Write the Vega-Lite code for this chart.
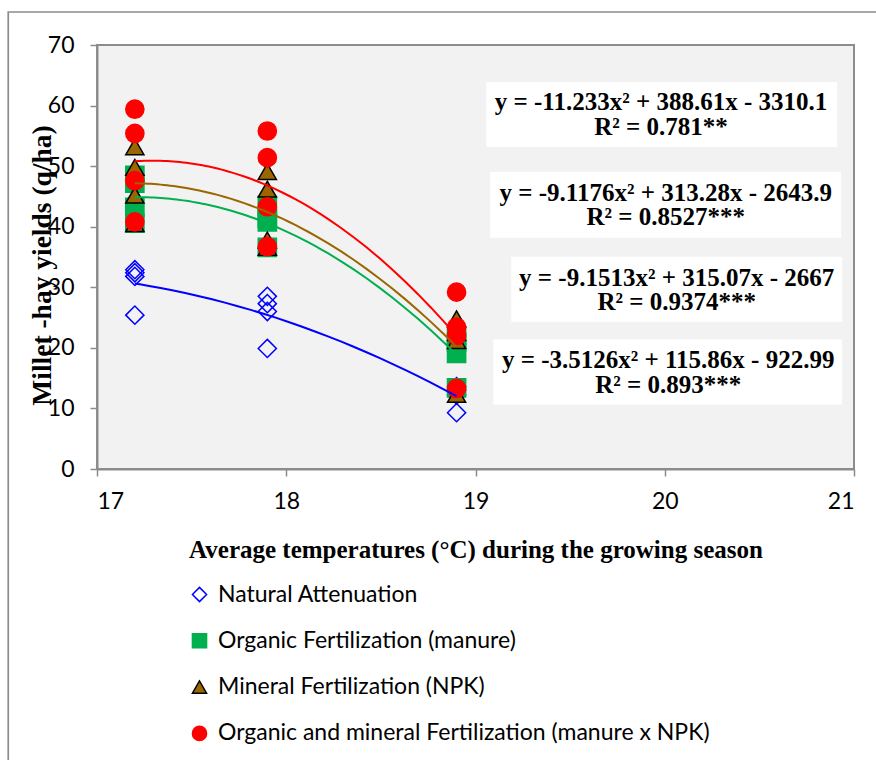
{
  "$schema": "https://vega.github.io/schema/vega-lite/v6.json",
  "width": 757,
  "height": 424,
  "autosize": {"type": "none"},
  "padding": {"left": 97, "top": 45, "right": 22, "bottom": 291},
  "background": "white",
  "config": {
    "view": {"fill": "#f2f2f2", "stroke": "#8c8c8c", "strokeWidth": 2},
    "axis": {
      "gridColor": "#8c8c8c", "gridWidth": 1.5, "gridOpacity": 1,
      "domainColor": "#8c8c8c", "domainWidth": 2,
      "tickColor": "#8c8c8c", "tickWidth": 1.5, "tickSize": 7,
      "labelFont": "Lato", "labelFontSize": 23, "labelColor": "black",
      "titleFont": "Liberation Serif", "titleFontSize": 25, "titleFontWeight": "bold", "titleColor": "black"
    },
    "legend": {
      "labelFont": "Lato", "labelFontSize": 23, "labelColor": "black",
      "symbolSize": 200, "symbolStrokeWidth": 1.5, "rowPadding": 22.3, "labelOffset": 7, "padding": 0,
      "labelLimit": 800
    }
  },
  "datasets": {
    "yields": [
      {"temp": 17.2, "yield": 32.9, "series": "Natural Attenuation"},
      {"temp": 17.2, "yield": 32.4, "series": "Natural Attenuation"},
      {"temp": 17.2, "yield": 31.8, "series": "Natural Attenuation"},
      {"temp": 17.2, "yield": 25.4, "series": "Natural Attenuation"},
      {"temp": 17.9, "yield": 28.5, "series": "Natural Attenuation"},
      {"temp": 17.9, "yield": 27.3, "series": "Natural Attenuation"},
      {"temp": 17.9, "yield": 26.0, "series": "Natural Attenuation"},
      {"temp": 17.9, "yield": 19.9, "series": "Natural Attenuation"},
      {"temp": 18.9, "yield": 13.6, "series": "Natural Attenuation"},
      {"temp": 18.9, "yield": 13.0, "series": "Natural Attenuation"},
      {"temp": 18.9, "yield": 12.2, "series": "Natural Attenuation"},
      {"temp": 18.9, "yield": 9.3, "series": "Natural Attenuation"},
      {"temp": 17.2, "yield": 48.5, "series": "Organic Fertilization (manure)"},
      {"temp": 17.2, "yield": 47.2, "series": "Organic Fertilization (manure)"},
      {"temp": 17.2, "yield": 43.2, "series": "Organic Fertilization (manure)"},
      {"temp": 17.2, "yield": 40.6, "series": "Organic Fertilization (manure)"},
      {"temp": 17.9, "yield": 43.5, "series": "Organic Fertilization (manure)"},
      {"temp": 17.9, "yield": 41.4, "series": "Organic Fertilization (manure)"},
      {"temp": 17.9, "yield": 40.8, "series": "Organic Fertilization (manure)"},
      {"temp": 17.9, "yield": 36.6, "series": "Organic Fertilization (manure)"},
      {"temp": 18.9, "yield": 22.0, "series": "Organic Fertilization (manure)"},
      {"temp": 18.9, "yield": 21.0, "series": "Organic Fertilization (manure)"},
      {"temp": 18.9, "yield": 19.1, "series": "Organic Fertilization (manure)"},
      {"temp": 18.9, "yield": 13.4, "series": "Organic Fertilization (manure)"},
      {"temp": 17.2, "yield": 53.2, "series": "Mineral Fertilization (NPK)"},
      {"temp": 17.2, "yield": 49.8, "series": "Mineral Fertilization (NPK)"},
      {"temp": 17.2, "yield": 45.2, "series": "Mineral Fertilization (NPK)"},
      {"temp": 17.2, "yield": 40.5, "series": "Mineral Fertilization (NPK)"},
      {"temp": 17.9, "yield": 49.1, "series": "Mineral Fertilization (NPK)"},
      {"temp": 17.9, "yield": 46.2, "series": "Mineral Fertilization (NPK)"},
      {"temp": 17.9, "yield": 37.8, "series": "Mineral Fertilization (NPK)"},
      {"temp": 17.9, "yield": 36.6, "series": "Mineral Fertilization (NPK)"},
      {"temp": 18.9, "yield": 24.8, "series": "Mineral Fertilization (NPK)"},
      {"temp": 18.9, "yield": 22.5, "series": "Mineral Fertilization (NPK)"},
      {"temp": 18.9, "yield": 21.2, "series": "Mineral Fertilization (NPK)"},
      {"temp": 18.9, "yield": 12.3, "series": "Mineral Fertilization (NPK)"},
      {"temp": 17.2, "yield": 59.4, "series": "Organic and mineral Fertilization (manure x NPK)"},
      {"temp": 17.2, "yield": 55.4, "series": "Organic and mineral Fertilization (manure x NPK)"},
      {"temp": 17.2, "yield": 47.6, "series": "Organic and mineral Fertilization (manure x NPK)"},
      {"temp": 17.2, "yield": 40.8, "series": "Organic and mineral Fertilization (manure x NPK)"},
      {"temp": 17.9, "yield": 55.8, "series": "Organic and mineral Fertilization (manure x NPK)"},
      {"temp": 17.9, "yield": 51.4, "series": "Organic and mineral Fertilization (manure x NPK)"},
      {"temp": 17.9, "yield": 43.3, "series": "Organic and mineral Fertilization (manure x NPK)"},
      {"temp": 17.9, "yield": 36.7, "series": "Organic and mineral Fertilization (manure x NPK)"},
      {"temp": 18.9, "yield": 29.2, "series": "Organic and mineral Fertilization (manure x NPK)"},
      {"temp": 18.9, "yield": 23.4, "series": "Organic and mineral Fertilization (manure x NPK)"},
      {"temp": 18.9, "yield": 22.0, "series": "Organic and mineral Fertilization (manure x NPK)"},
      {"temp": 18.9, "yield": 13.3, "series": "Organic and mineral Fertilization (manure x NPK)"}
    ],
    "single": [{}]
  },
  "layer": [
    {
      "data": {"name": "single"},
      "mark": {"type": "rect", "filled": false, "stroke": "#8c8c8c", "strokeWidth": 1.7, "clip": false},
      "encoding": {
        "x": {"datum": 16.531, "type": "quantitative"},
        "x2": {"datum": 21.2},
        "y": {"datum": 75.45, "type": "quantitative"},
        "y2": {"datum": -50}
      }
    },
    {
      "data": {"name": "yields"},
      "mark": {"type": "point", "size": 330, "strokeWidth": 1.5, "opacity": 1},
      "encoding": {
        "x": {
          "field": "temp", "type": "quantitative",
          "scale": {"domain": [17, 21], "nice": false, "zero": false},
          "axis": {
            "title": "Average temperatures (°C) during the growing season",
            "values": [17, 18, 19, 20, 21], "format": "d",
            "labelPadding": 14, "titleY": 88, "titleBaseline": "alphabetic"
          }
        },
        "y": {
          "field": "yield", "type": "quantitative",
          "scale": {"domain": [0, 70], "nice": false},
          "axis": {
            "title": "Millet -hay yields (q/ha)",
            "values": [0, 10, 20, 30, 40, 50, 60, 70],
            "labelPadding": 16, "titleFontSize": 27.5,
            "titleX": -47, "titleY": 220, "titleAlign": "center", "titleBaseline": "alphabetic", "titleAngle": -90
          }
        },
        "shape": {
          "field": "series", "type": "nominal",
          "scale": {
            "domain": ["Natural Attenuation", "Organic Fertilization (manure)", "Mineral Fertilization (NPK)", "Organic and mineral Fertilization (manure x NPK)"],
            "range": ["diamond", "square", "triangle-up", "circle"]
          },
          "legend": {"title": null, "orient": "none", "legendX": 91, "legendY": 538, "direction": "vertical"}
        },
        "fill": {
          "field": "series", "type": "nominal",
          "scale": {
            "domain": ["Natural Attenuation", "Organic Fertilization (manure)", "Mineral Fertilization (NPK)", "Organic and mineral Fertilization (manure x NPK)"],
            "range": ["transparent", "#00b050", "#996600", "#ff0000"]
          },
          "legend": {"title": null, "orient": "none", "legendX": 91, "legendY": 538, "direction": "vertical"}
        },
        "stroke": {
          "field": "series", "type": "nominal",
          "scale": {
            "domain": ["Natural Attenuation", "Organic Fertilization (manure)", "Mineral Fertilization (NPK)", "Organic and mineral Fertilization (manure x NPK)"],
            "range": ["#0000ff", "#00b050", "#000000", "#ff0000"]
          },
          "legend": {"title": null, "orient": "none", "legendX": 91, "legendY": 538, "direction": "vertical"}
        }
      }
    },
    {
      "data": {"name": "yields"},
      "transform": [
        {"regression": "yield", "on": "temp", "groupby": ["series"], "method": "poly", "order": 2, "extent": [17.2, 18.9]}
      ],
      "mark": {"type": "line", "strokeWidth": 2},
      "encoding": {
        "x": {"field": "temp", "type": "quantitative"},
        "y": {"field": "yield", "type": "quantitative"},
        "color": {
          "field": "series", "type": "nominal",
          "scale": {
            "domain": ["Natural Attenuation", "Organic Fertilization (manure)", "Mineral Fertilization (NPK)", "Organic and mineral Fertilization (manure x NPK)"],
            "range": ["#0000ff", "#00b050", "#996600", "#ff0000"]
          },
          "legend": null
        }
      }
    },
    {
      "data": {"name": "single"},
      "mark": {"type": "rect", "fill": "white"},
      "encoding": {"x": {"datum": 19.057}, "x2": {"datum": 20.911}, "y": {"datum": 63.9}, "y2": {"datum": 53.18}}
    },
    {
      "data": {"name": "single"},
      "mark": {"type": "rect", "fill": "white"},
      "encoding": {"x": {"datum": 19.078}, "x2": {"datum": 20.932}, "y": {"datum": 49.06}, "y2": {"datum": 38.17}}
    },
    {
      "data": {"name": "single"},
      "mark": {"type": "rect", "fill": "white"},
      "encoding": {"x": {"datum": 19.189}, "x2": {"datum": 20.937}, "y": {"datum": 35.04}, "y2": {"datum": 24.32}}
    },
    {
      "data": {"name": "single"},
      "mark": {"type": "rect", "fill": "white"},
      "encoding": {"x": {"datum": 19.094}, "x2": {"datum": 20.937}, "y": {"datum": 21.36}, "y2": {"datum": 10.64}}
    },
    {
      "data": {"name": "single"},
      "mark": {"type": "text", "font": "Liberation Serif", "fontWeight": "bold", "fontSize": 25, "lineHeight": 25, "align": "center", "baseline": "middle", "fill": "black",
        "text": ["y = -11.233x² + 388.61x - 3310.1", "R² = 0.781**"]},
      "encoding": {"x": {"datum": 19.98}, "y": {"datum": 60.6}}
    },
    {
      "data": {"name": "single"},
      "mark": {"type": "text", "font": "Liberation Serif", "fontWeight": "bold", "fontSize": 25, "lineHeight": 24.5, "align": "center", "baseline": "middle", "fill": "black",
        "text": ["y = -9.1176x² + 313.28x - 2643.9", "R² = 0.8527***"]},
      "encoding": {"x": {"datum": 20.005}, "y": {"datum": 45.6}}
    },
    {
      "data": {"name": "single"},
      "mark": {"type": "text", "font": "Liberation Serif", "fontWeight": "bold", "fontSize": 25, "lineHeight": 24.5, "align": "center", "baseline": "middle", "fill": "black",
        "text": ["y = -9.1513x² + 315.07x - 2667", "R² = 0.9374***"]},
      "encoding": {"x": {"datum": 20.063}, "y": {"datum": 31.58}}
    },
    {
      "data": {"name": "single"},
      "mark": {"type": "text", "font": "Liberation Serif", "fontWeight": "bold", "fontSize": 25, "lineHeight": 25, "align": "center", "baseline": "middle", "fill": "black",
        "text": ["y = -3.5126x² + 115.86x - 922.99", "R² = 0.893***"]},
      "encoding": {"x": {"datum": 20.018}, "y": {"datum": 18.06}}
    }
  ]
}
